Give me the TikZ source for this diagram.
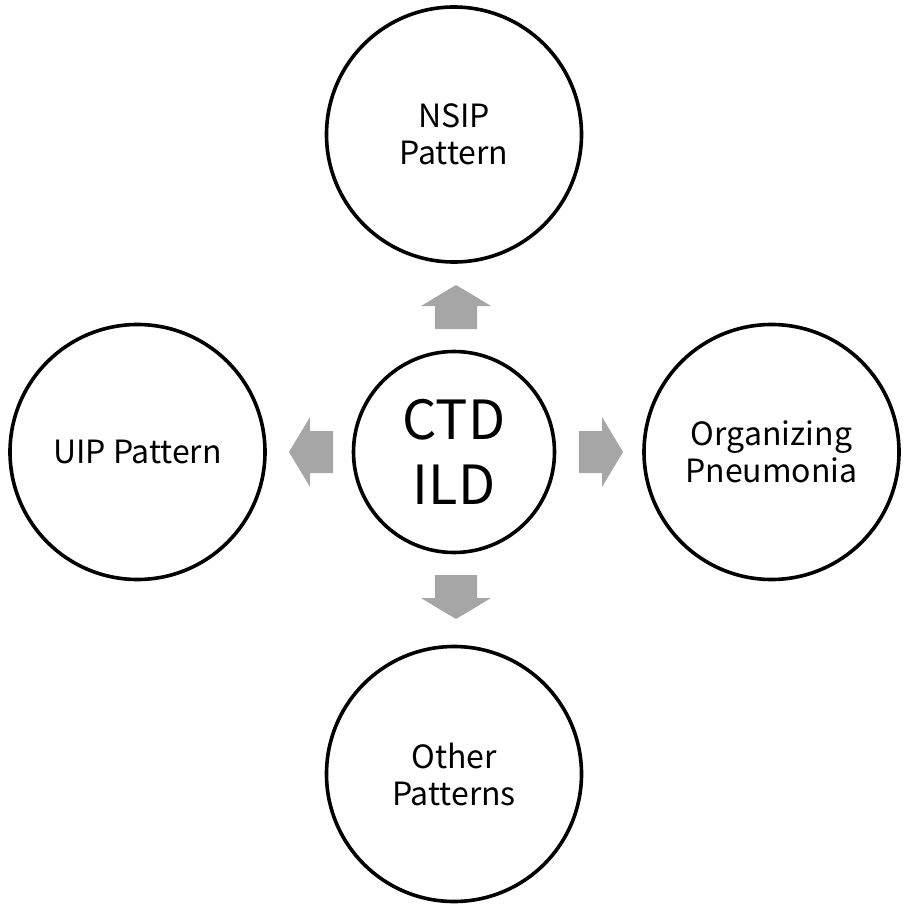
\documentclass[tikz,border=0pt]{standalone}
\usepackage{fontspec}
\setmainfont{Noto Sans CJK SC}
\definecolor{arrowgray}{HTML}{A6A6A6}
\begin{document}
\begin{tikzpicture}[x=1pt,y=-1pt,
  bigcirc/.style={circle,draw=black,line width=3.6pt,fill=white,inner sep=0pt,align=center},
  outer/.style={bigcirc,minimum size=255pt,font=\fontsize{32}{37}\selectfont},
  center/.style={bigcirc,minimum size=201pt,font=\fontsize{54}{65}\selectfont},
  blockarrow/.style={fill=arrowgray}]
\useasboundingbox (0,0) rectangle (907,904);
\node[center] (ctd) at (454,452) {CTD\\ILD};
\node[outer] (nsip) at (454,134.5) {NSIP\\Pattern};
\node[outer] (uip) at (137.5,452) {UIP Pattern};
\node[outer] (op) at (771.5,452) {Organizing\\Pneumonia};
\node[outer] (oth) at (454,774) {Other\\Patterns};
\coordinate (aup) at (456,307);
\coordinate (adown) at (456,597);
\coordinate (aleft) at (311,452);
\coordinate (aright) at (601,452);
\foreach \c/\r in {aup/90,adown/-90,aleft/180,aright/0}{
  \fill[blockarrow,shift={(\c)},rotate=\r] (-22,-21) -- (1,-21) -- (1,-35) -- (22,0) -- (1,35) -- (1,21) -- (-22,21) -- cycle;
}
\end{tikzpicture}
\end{document}
